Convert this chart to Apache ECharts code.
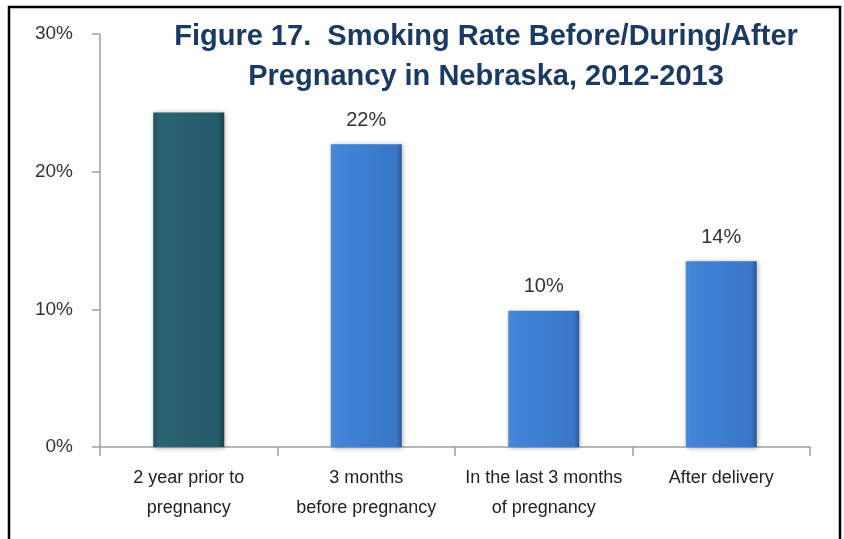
<!DOCTYPE html>
<html>
<head>
<meta charset="utf-8">
<script src="https://cdn.jsdelivr.net/npm/echarts@6/dist/echarts.min.js"></script>
<style>
  html, body { margin: 0; padding: 0; background: #fff; }
  #chart { width: 844px; height: 539px; }
</style>
</head>
<body>
<div id="chart"></div>
<script>
// data
var categories = ['2 year prior to\npregnancy', '3 months\nbefore pregnancy', 'In the last 3 months\nof pregnancy', 'After delivery'];
var rates = [24.3, 22.0, 9.9, 13.5];
var yTicks = [0, 10, 20, 30];

var chart = echarts.init(document.getElementById('chart'));

function barFill(i) {
  // first bar is teal, the rest blue
  if (i === 0) {
    return new echarts.graphic.LinearGradient(0, 0, 1, 0, [
      { offset: 0, color: '#1f4d57' },
      { offset: 0.08, color: '#2b6472' },
      { offset: 0.5, color: '#275f6c' },
      { offset: 0.92, color: '#24596a' },
      { offset: 1, color: '#183f48' }
    ]);
  }
  return new echarts.graphic.LinearGradient(0, 0, 1, 0, [
    { offset: 0, color: '#4d8ad6' },
    { offset: 0.08, color: '#4185d6' },
    { offset: 0.5, color: '#3c7ed0' },
    { offset: 0.92, color: '#3977c7' },
    { offset: 1, color: '#275a9a' }
  ]);
}

var option = {
  backgroundColor: '#fff',
  animation: false,
  title: {
    text: 'Figure 17.  Smoking Rate Before/During/After\nPregnancy in Nebraska, 2012-2013',
    left: 481,
    top: 12,
    textAlign: 'center',
    textStyle: {
      fontFamily: 'Liberation Sans, Arial, sans-serif',
      fontWeight: 'bold',
      fontSize: 29,
      lineHeight: 40,
      color: '#1b3a63'
    }
  },
  grid: { left: 100, right: 34, top: 34, bottom: 92 },
  xAxis: {
    type: 'category',
    data: categories,
    axisLine: { lineStyle: { color: '#a0a0a0', width: 1.5 } },
    axisTick: { show: true, length: 9, lineStyle: { color: '#a0a0a0', width: 1.5 } },
    axisLabel: {
      interval: 0,
      hideOverlap: false,
      margin: 16,
      fontFamily: 'Liberation Sans Narrow, Liberation Sans, Arial, sans-serif',
      fontSize: 18,
      lineHeight: 30,
      color: '#222'
    }
  },
  yAxis: {
    type: 'value',
    min: yTicks[0],
    max: yTicks[yTicks.length - 1],
    interval: 10,
    splitLine: { show: false },
    axisLine: { show: true, lineStyle: { color: '#a0a0a0', width: 1.5 } },
    axisTick: { show: true, length: 8, lineStyle: { color: '#a0a0a0', width: 1.5 } },
    axisLabel: {
      margin: 27,
      formatter: '{value}%',
      fontFamily: 'Liberation Sans, Arial, sans-serif',
      fontSize: 19,
      color: '#333'
    }
  },
  series: [{
    type: 'bar',
    data: rates,
    barWidth: 71,
    itemStyle: {
      color: function (p) { return barFill(p.dataIndex); },
      shadowColor: 'rgba(0,0,0,0.35)',
      shadowBlur: 5,
      shadowOffsetX: 1,
      shadowOffsetY: 1
    },
    label: {
      show: true,
      position: 'top',
      distance: 14,
      fontFamily: 'Liberation Sans, Arial, sans-serif',
      fontSize: 20,
      color: '#333',
      formatter: function (p) {
        return p.dataIndex === 0 ? '' : Math.round(p.value) + '%';
      }
    }
  }],
  graphic: [{
    type: 'polyline',
    shape: { points: [[9, 539], [9, 7], [840, 7], [840, 539]] },
    style: { stroke: '#000', lineWidth: 2.5, fill: null },
    silent: true
  }]
};

chart.setOption(option);
</script>
</body>
</html>
